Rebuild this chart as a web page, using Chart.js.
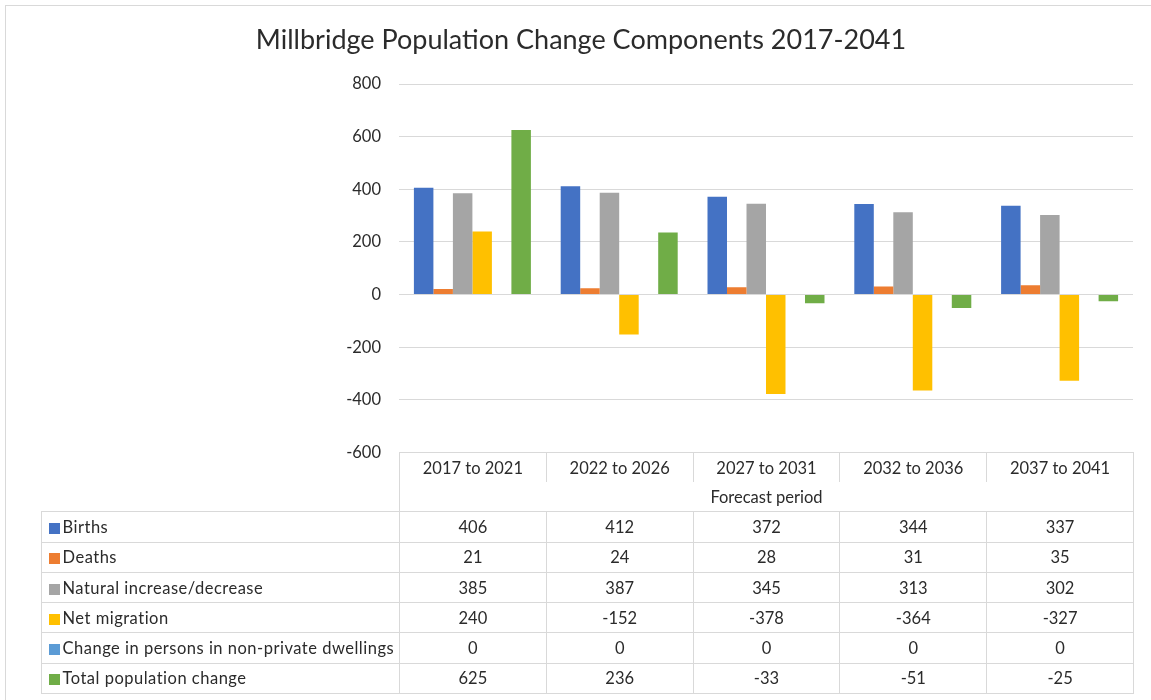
<!DOCTYPE html>
<html lang="en">
<head>
    <meta charset="UTF-8">
    <meta name="viewport" content="width=device-width, initial-scale=1.0">
    <title>Millbridge Population Change Components 2017-2041</title>
    <script src="https://cdn.jsdelivr.net/npm/chart.js"></script>
    <style>
        body { margin: 0; background: #fff; overflow: hidden; font-family: Lato, sans-serif; }
        .wrap { position: relative; width: 1151px; height: 700px; overflow: hidden; }
        .frame { position: absolute; left: 5px; top: 5px; width: 1200px; height: 800px; border: 1px solid #d9d9d9; }
        .chart-box { position: absolute; left: 0; top: 0; width: 1151px; height: 700px; }
        #dataTable { position: absolute; border-collapse: collapse; table-layout: fixed; font-size: 16.5px; color: #2b2b2b; }
        #dataTable td { padding: 0; text-align: center; white-space: nowrap; border: 1px solid #d9d9d9; height: 29.3px; }
        #dataTable td.blank { border: none; }
        #dataTable td.head { border-bottom: none; height: 29px; }
        #dataTable td.axis { border-top: none; border-bottom: 1px solid #d9d9d9; height: 28px; }
        #dataTable td.label { text-align: left; letter-spacing: 0.5px; }
        .key { display: inline-block; width: 11px; height: 11px; margin: 0 3px 0 7px; vertical-align: -1px; }
    </style>
</head>
<body>
    <div class="wrap">
        <div class="frame"></div>
        <div class="chart-box"><canvas id="popChart"></canvas></div>
        <table id="dataTable"></table>
    </div>

    <script>
        const categories = ['2017 to 2021', '2022 to 2026', '2027 to 2031', '2032 to 2036', '2037 to 2041'];
        const seriesNames = ['Births', 'Deaths', 'Natural increase/decrease', 'Net migration',
            'Change in persons in non-private dwellings', 'Total population change'];
        const births = [406, 412, 372, 344, 337];
        const deaths = [21, 24, 28, 31, 35];
        const naturalChange = [385, 387, 345, 313, 302];
        const netMigration = [240, -152, -378, -364, -327];
        const nonPrivateDwellings = [0, 0, 0, 0, 0];
        const totalChange = [625, 236, -33, -51, -25];
        const yMin = -600, yMax = 800, yStep = 200;
        const chartTitle = 'Millbridge Population Change Components 2017-2041';
        const axisTitle = 'Forecast period';

        const seriesValues = [births, deaths, naturalChange, netMigration, nonPrivateDwellings, totalChange];
        const seriesColors = ['#4472C4', '#ED7D31', '#A5A5A5', '#FFC000', '#5B9BD5', '#70AD47'];
        const textColor = '#2b2b2b';

        const chart = new Chart(document.getElementById('popChart'), {
            type: 'bar',
            data: {
                labels: categories,
                datasets: seriesNames.map((name, i) => ({
                    label: name,
                    data: seriesValues[i],
                    backgroundColor: seriesColors[i],
                    borderWidth: 0,
                    categoryPercentage: 0.797,
                    barPercentage: 1
                }))
            },
            options: {
                responsive: true,
                maintainAspectRatio: false,
                animation: false,
                layout: { padding: { left: 29, right: 18, top: 24, bottom: 247.5 } },
                plugins: {
                    legend: { display: false },
                    tooltip: { enabled: false },
                    title: {
                        display: true,
                        text: chartTitle,
                        color: textColor,
                        font: { family: 'Lato', size: 27, weight: 'normal' },
                        padding: { top: 0, bottom: 27.6 }
                    }
                },
                scales: {
                    x: { display: false },
                    y: {
                        min: yMin,
                        max: yMax,
                        ticks: { stepSize: yStep, color: textColor, padding: 18,
                                 font: { family: 'Lato', size: 16.5 } },
                        grid: { color: '#d9d9d9', drawTicks: false },
                        border: { display: false },
                        afterFit(scale) { scale.width = 399 - 29; }
                    }
                }
            }
        });

        // data table under the plot, columns lined up with the chart area
        function buildTable(chart) {
            const area = chart.chartArea;
            const colW = (area.right - area.left) / categories.length;
            const tableLeft = 40.5;
            const table = document.getElementById('dataTable');
            table.style.left = tableLeft + 'px';
            table.style.top = (area.bottom - 0.5) + 'px';
            table.style.width = (area.right - tableLeft) + 'px';

            const cols = document.createElement('colgroup');
            const first = document.createElement('col');
            first.style.width = (area.left - tableLeft) + 'px';
            cols.appendChild(first);
            categories.forEach(() => {
                const col = document.createElement('col');
                col.style.width = colW + 'px';
                cols.appendChild(col);
            });
            table.appendChild(cols);

            let tr = table.insertRow();
            tr.insertCell().className = 'blank';
            categories.forEach(c => {
                const td = tr.insertCell();
                td.className = 'head';
                td.textContent = c;
            });

            tr = table.insertRow();
            tr.insertCell().className = 'blank';
            const axisCell = tr.insertCell();
            axisCell.className = 'axis';
            axisCell.colSpan = categories.length;
            axisCell.textContent = axisTitle;

            seriesNames.forEach((name, s) => {
                const row = table.insertRow();
                const label = row.insertCell();
                label.className = 'label';
                const key = document.createElement('span');
                key.className = 'key';
                key.style.background = seriesColors[s];
                label.appendChild(key);
                label.appendChild(document.createTextNode(name));
                seriesValues[s].forEach(v => {
                    row.insertCell().textContent = v;
                });
            });
        }

        buildTable(chart);
    </script>
</body>
</html>
